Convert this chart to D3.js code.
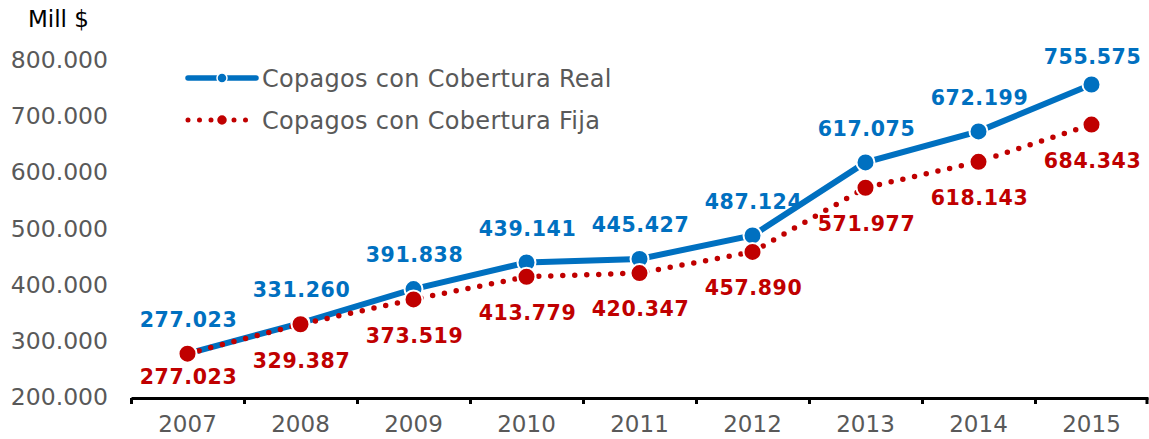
<!DOCTYPE html>
<html>
<head>
<meta charset="utf-8">
<script src="https://cdn.jsdelivr.net/npm/d3@7"></script>
<style>
  html, body { margin: 0; padding: 0; background: #fff; }
  svg { display: block; }
</style>
</head>
<body>
<svg id="chart" width="1149" height="439"></svg>
<script>
// chart data
var years = ["2007", "2008", "2009", "2010", "2011", "2012", "2013", "2014", "2015"];
var realValues = [277023, 331260, 391838, 439141, 445427, 487124, 617075, 672199, 755575];
var fijaValues = [277023, 329387, 373519, 413779, 420347, 457890, 571977, 618143, 684343];
var yTicks = [200000, 300000, 400000, 500000, 600000, 700000, 800000];
var seriesNames = ["Copagos con Cobertura Real", "Copagos con Cobertura Fija"];

var blue = "#0070C0";
var red = "#C00000";

var svg = d3.select("#chart");

var margin = { top: 59.5, bottom: 42, left: 131, right: 1 };
var width = +svg.attr("width");
var height = +svg.attr("height");

var fmt = function(v) { return d3.format(",.0f")(v / 1000) .replace(/,/g, ".") + ".000"; };
var fmtLabel = function(v) { return d3.format(",")(v).replace(/,/g, "."); };

var xScale = d3.scaleBand()
	.domain(years)
	.range([margin.left, width - margin.right])
	.padding(0);

var yScale = d3.scaleLinear()
	.domain([200000, 800000])
	.range([height - margin.bottom, margin.top]);

var cx = d => xScale(d) + xScale.bandwidth() / 2;

// y tick labels (no axis line)
svg.append("g")
	.selectAll("text")
	.data(yTicks)
	.enter()
	.append("text")
	.attr("x", 108)
	.attr("y", d => yScale(d))
	.attr("dy", "0.36em")
	.attr("text-anchor", "end")
	.attr("font-family", "DejaVu Sans, Verdana, sans-serif")
	.attr("font-size", 23.5)
	.attr("fill", "#595959")
	.text(fmt);

// x axis
var xAxis = svg.append("g")
	.attr("transform", "translate(0," + (yScale(200000) + 1) + ")")
	.call(d3.axisBottom(xScale).tickSize(0).tickPadding(18));

xAxis.select(".domain")
	.attr("stroke", "#000")
	.attr("stroke-width", 3);

xAxis.selectAll(".tick text")
	.attr("font-family", "DejaVu Sans, Verdana, sans-serif")
	.attr("font-size", 23)
	.attr("fill", "#595959");

// boundary ticks between categories
xAxis.append("g")
	.selectAll("line")
	.data(years.concat(["end"]))
	.enter()
	.append("line")
	.attr("x1", (d, i) => i < years.length ? xScale(d) + 0.5 : width - margin.right - 1)
	.attr("x2", (d, i) => i < years.length ? xScale(d) + 0.5 : width - margin.right - 1)
	.attr("y1", 0)
	.attr("y2", 6)
	.attr("stroke", "#000")
	.attr("stroke-width", 3);

// unit label
svg.append("text")
	.attr("x", 28)
	.attr("y", 27)
	.attr("font-family", "DejaVu Sans, Verdana, sans-serif")
	.attr("font-size", 23)
	.attr("fill", "#000")
	.text("Mill $");

var line = d3.line()
	.x((d, i) => cx(years[i]))
	.y(d => yScale(d));

function drawSeries(values, color, dashed) {

	var g = svg.append("g");

	g.append("path")
		.datum(values)
		.attr("d", line)
		.attr("fill", "none")
		.attr("stroke", color)
		.attr("stroke-width", dashed ? 5.5 : 6)
		.attr("stroke-linecap", "round")
		.attr("stroke-dasharray", dashed ? "0 12" : null);

	g.selectAll("circle")
		.data(values)
		.enter()
		.append("circle")
		.attr("cx", (d, i) => cx(years[i]))
		.attr("cy", d => yScale(d))
		.attr("r", 9)
		.attr("fill", color)
		.attr("stroke", "#fff")
		.attr("stroke-width", 2);

}

drawSeries(realValues, blue, false);
drawSeries(fijaValues, red, true);

// data labels
var axisY = yScale(200000);

function drawLabels(values, color, offset) {

	svg.append("g")
		.selectAll("text")
		.data(values)
		.enter()
		.append("text")
		.attr("x", (d, i) => cx(years[i]) + 1)
		.attr("y", d => Math.max(57, Math.min(axisY - 20, yScale(d) + offset)))
		.attr("dy", "0.36em")
		.attr("text-anchor", "middle")
		.attr("font-family", "DejaVu Sans, Verdana, sans-serif")
		.attr("font-weight", "bold")
		.attr("font-size", 20.5)
		.attr("letter-spacing", 0.6)
		.attr("fill", color)
		.text(fmtLabel);

}

drawLabels(realValues, blue, -34);
drawLabels(fijaValues, red, 36);

// legend
var legend = svg.append("g");
var legendRows = [
	{ name: seriesNames[0], color: blue, dashed: false, y: 78 },
	{ name: seriesNames[1], color: red, dashed: true, y: 120 }
];

legendRows.forEach(function(row) {

	legend.append("line")
		.attr("x1", 188)
		.attr("x2", row.dashed ? 250 : 256)
		.attr("y1", row.y)
		.attr("y2", row.y)
		.attr("stroke", row.color)
		.attr("stroke-width", row.dashed ? 5 : 5.5)
		.attr("stroke-linecap", "round")
		.attr("stroke-dasharray", row.dashed ? "0 11.5" : null);

	legend.append("circle")
		.attr("cx", 222)
		.attr("cy", row.y)
		.attr("r", row.dashed ? 5.5 : 5)
		.attr("fill", row.color)
		.attr("stroke", "#fff")
		.attr("stroke-width", 1.5);

	legend.append("text")
		.attr("x", 262)
		.attr("y", row.y)
		.attr("dy", "0.36em")
		.attr("font-family", "DejaVu Sans, Verdana, sans-serif")
		.attr("font-size", 24)
		.attr("letter-spacing", 0.3)
		.attr("fill", "#595959")
		.text(row.name);

});
</script>
</body>
</html>
